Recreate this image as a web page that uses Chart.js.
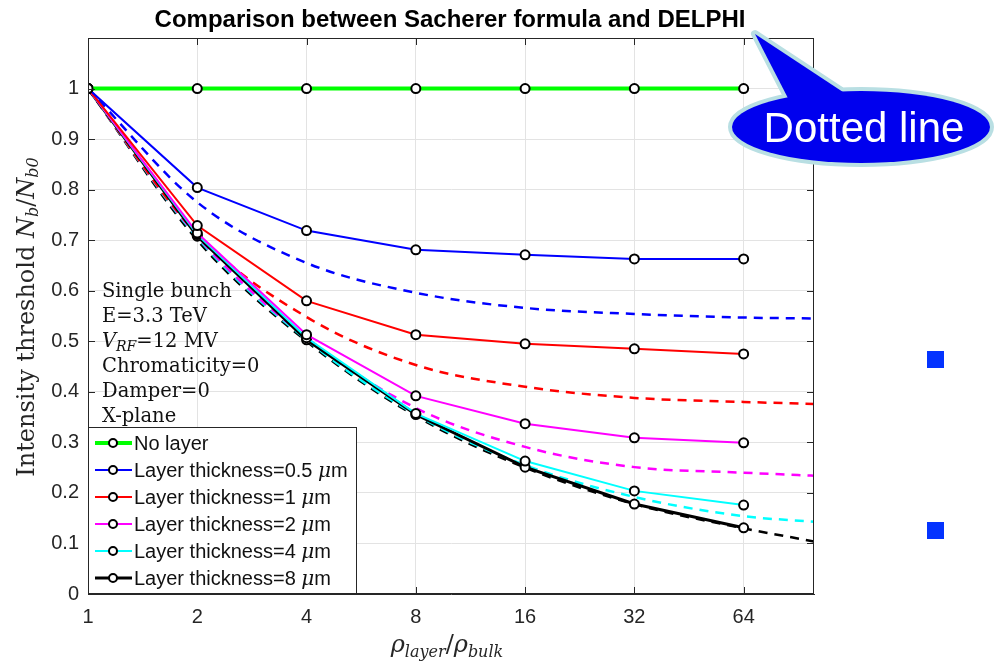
<!DOCTYPE html>
<html>
<head>
<meta charset="utf-8">
<script src="https://cdn.jsdelivr.net/npm/chart.js@4.4.0/dist/chart.umd.min.js"></script>
<style>
  html, body { margin: 0; background: #fff; }
</style>
</head>
<body>
<canvas id="c" width="994" height="664"></canvas>
<script>
// rho_layer / rho_bulk where DELPHI was run (markers)
const ratios = [1, 2, 4, 8, 16, 32, 64];
const ratiosSacherer = [1, 2, 4, 8, 16, 32, 64, 100];

const xTicks = [1, 2, 4, 8, 16, 32, 64];
const yTicks = [0, 0.1, 0.2, 0.3, 0.4, 0.5, 0.6, 0.7, 0.8, 0.9, 1];

const seriesLabels = ['No layer', 'Layer thickness=0.5 μm', 'Layer thickness=1 μm',
  'Layer thickness=2 μm', 'Layer thickness=4 μm', 'Layer thickness=8 μm'];
const seriesColors = ['#00ff00', '#0000ff', '#ff0000', '#ff00ff', '#00ffff', '#000000'];

// DELPHI, solid lines with circles
const delphiNoLayer = [1, 1, 1, 1, 1, 1, 1];
const delphi05 = [1, 0.804, 0.719, 0.681, 0.671, 0.663, 0.663];
const delphi1 = [1, 0.729, 0.580, 0.513, 0.495, 0.485, 0.475];
const delphi2 = [1, 0.714, 0.513, 0.392, 0.337, 0.309, 0.299];
const delphi4 = [1, 0.711, 0.507, 0.357, 0.263, 0.204, 0.176];
const delphi8 = [1, 0.708, 0.503, 0.355, 0.251, 0.178, 0.131];

// Sacherer formula, dashed lines
const sach05 = [1, 0.775, 0.655, 0.596, 0.566, 0.554, 0.547, 0.545];
const sach1 = [1, 0.712, 0.548, 0.453, 0.410, 0.388, 0.380, 0.376];
const sach2 = [1, 0.708, 0.507, 0.368, 0.291, 0.251, 0.240, 0.234];
const sach4 = [1, 0.705, 0.503, 0.355, 0.255, 0.192, 0.154, 0.143];
const sach8 = [1, 0.700, 0.500, 0.352, 0.250, 0.178, 0.130, 0.104];

const delphiSets = [delphiNoLayer, delphi05, delphi1, delphi2, delphi4, delphi8];
const sachSets = [null, sach05, sach1, sach2, sach4, sach8];

const pts = (xs, ys) => xs.map((x, i) => ({ x: x, y: ys[i] }));

const datasets = [];
delphiSets.forEach((ys, i) => {
  datasets.push({
    label: seriesLabels[i],
    data: pts(ratios, ys),
    borderColor: seriesColors[i],
    borderWidth: i === 0 ? 4 : (i === 5 ? 3 : 2),
    pointRadius: 4.5,
    pointBorderWidth: 2,
    pointBorderColor: '#000',
    pointBackgroundColor: '#fff',
    tension: 0,
    order: 0,
    solid: true
  });
});
sachSets.forEach((ys, i) => {
  if (!ys) return;
  datasets.push({
    label: seriesLabels[i] + ' (Sacherer)',
    data: pts(ratiosSacherer, ys),
    borderColor: seriesColors[i],
    borderWidth: 2.5,
    borderDash: [9, 7],
    pointRadius: 0,
    cubicInterpolationMode: 'monotone',
    order: 1
  });
});

// draws a run of text pieces with different fonts / offsets
function drawRich(ctx, parts, x, y, align) {
  let w = 0;
  parts.forEach(p => { ctx.font = p.f; w += ctx.measureText(p.t).width; });
  let cx = align === 'center' ? x - w / 2 : x;
  ctx.textAlign = 'left';
  parts.forEach(p => {
    ctx.font = p.f;
    ctx.fillText(p.t, cx, y + (p.dy || 0));
    cx += ctx.measureText(p.t).width;
  });
}

const SERIF = '"DejaVu Serif", serif';
const SANS = '"Liberation Sans", Arial, sans-serif';

const decor = {
  id: 'decor',
  afterDraw(chart) {
    const { ctx, chartArea: a, scales: { x, y } } = chart;
    ctx.save();

    // frame and inward ticks
    ctx.strokeStyle = '#262626';
    ctx.lineWidth = 1;
    ctx.strokeRect(a.left + 0.5, a.top + 0.5, a.right - a.left - 1, a.bottom - a.top - 1);
    ctx.beginPath();
    xTicks.forEach(v => {
      const px = Math.round(x.getPixelForValue(v)) + 0.5;
      ctx.moveTo(px, a.bottom); ctx.lineTo(px, a.bottom - 7);
      ctx.moveTo(px, a.top); ctx.lineTo(px, a.top + 7);
    });
    yTicks.forEach(v => {
      const py = Math.round(y.getPixelForValue(v)) + 0.5;
      ctx.moveTo(a.left, py); ctx.lineTo(a.left + 7, py);
      ctx.moveTo(a.right, py); ctx.lineTo(a.right - 7, py);
    });
    ctx.stroke();

    // title
    ctx.fillStyle = '#000';
    ctx.textBaseline = 'alphabetic';
    ctx.font = 'bold 24px ' + SANS;
    ctx.textAlign = 'center';
    ctx.fillText('Comparison between Sacherer formula and DELPHI', 450, 27);

    // axis titles
    ctx.fillStyle = '#262626';
    drawRich(ctx, [
      { t: 'ρ', f: 'italic 24px ' + SERIF },
      { t: 'layer', f: 'italic 16px ' + SERIF, dy: 5 },
      { t: '/', f: '24px ' + SERIF },
      { t: 'ρ', f: 'italic 24px ' + SERIF },
      { t: 'bulk', f: 'italic 16px ' + SERIF, dy: 5 }
    ], 447, 652, 'center');

    ctx.save();
    ctx.translate(34, 317);
    ctx.rotate(-Math.PI / 2);
    drawRich(ctx, [
      { t: 'Intensity threshold ', f: '24px ' + SERIF },
      { t: 'N', f: 'italic 24px ' + SERIF },
      { t: 'b', f: 'italic 16px ' + SERIF, dy: 4 },
      { t: '/', f: '24px ' + SERIF },
      { t: 'N', f: 'italic 24px ' + SERIF },
      { t: 'b0', f: 'italic 16px ' + SERIF, dy: 4 }
    ], 0, 0, 'center');
    ctx.restore();

    // parameter text
    ctx.fillStyle = '#111';
    const fTxt = '19.5px ' + SERIF;
    drawRich(ctx, [{ t: 'Single bunch', f: fTxt }], 102, 297);
    drawRich(ctx, [{ t: 'E=3.3 TeV', f: fTxt }], 102, 322);
    drawRich(ctx, [
      { t: 'V', f: 'italic 19.5px ' + SERIF },
      { t: 'RF', f: 'italic 14px ' + SERIF, dy: 4 },
      { t: '=12 MV', f: fTxt }
    ], 102, 347);
    drawRich(ctx, [{ t: 'Chromaticity=0', f: fTxt }], 102, 372);
    drawRich(ctx, [{ t: 'Damper=0', f: fTxt }], 102, 397);
    drawRich(ctx, [{ t: 'X-plane', f: fTxt }], 102, 422);

    // legend
    const lx = 88, ly = 427, lw = 268, lh = 166;
    ctx.fillStyle = '#fff';
    ctx.fillRect(lx, ly, lw, lh);
    ctx.strokeStyle = '#262626';
    ctx.lineWidth = 1;
    ctx.strokeRect(lx + 0.5, ly + 0.5, lw, lh);
    chart.data.datasets.filter(d => d.solid).forEach((d, i) => {
      const ry = 443 + i * 27;
      ctx.strokeStyle = d.borderColor;
      ctx.lineWidth = d.borderWidth;
      ctx.beginPath(); ctx.moveTo(95, ry); ctx.lineTo(132, ry); ctx.stroke();
      ctx.beginPath(); ctx.arc(113, ry, 4, 0, Math.PI * 2);
      ctx.fillStyle = '#fff'; ctx.fill();
      ctx.strokeStyle = '#000'; ctx.lineWidth = 2; ctx.stroke();
      ctx.fillStyle = '#111';
      const lab = d.label;
      const parts = lab.endsWith(' μm')
        ? [{ t: lab.slice(0, -2), f: '20px ' + SANS }, { t: 'μ', f: 'italic 20px ' + SERIF }, { t: 'm', f: '20px ' + SANS }]
        : [{ t: lab, f: '20px ' + SANS }];
      drawRich(ctx, parts, 134, ry + 7);
    });

    // callout bubble
    const ex = 861, ey = 127;
    ctx.beginPath();
    ctx.moveTo(791, 104); ctx.lineTo(755, 34); ctx.lineTo(846, 94); ctx.closePath();
    ctx.ellipse(ex, ey, 129, 36, 0, 0, Math.PI * 2);
    ctx.strokeStyle = '#b9dfe3';
    ctx.lineWidth = 8;
    ctx.lineJoin = 'round';
    ctx.stroke();
    ctx.beginPath();
    ctx.moveTo(791, 104); ctx.lineTo(755, 34); ctx.lineTo(846, 94); ctx.closePath();
    ctx.fillStyle = '#0000ee';
    ctx.fill();
    ctx.beginPath();
    ctx.ellipse(ex, ey, 129, 36, 0, 0, Math.PI * 2);
    ctx.fill();
    ctx.fillStyle = '#fff';
    ctx.font = '42px ' + SANS;
    ctx.textAlign = 'center';
    ctx.fillText('Dotted line', 864, 142);

    // slide bullets
    ctx.fillStyle = '#0433ff';
    ctx.fillRect(927, 351, 17, 17);
    ctx.fillRect(927, 522, 17, 17);

    ctx.restore();
  }
};

new Chart(document.getElementById('c'), {
  type: 'line',
  data: { datasets: datasets },
  options: {
    responsive: false,
    animation: false,
    devicePixelRatio: 1,
    layout: { padding: { left: 0, top: 38, right: 180, bottom: 0 } },
    plugins: { legend: { display: false }, tooltip: { enabled: false }, title: { display: false } },
    scales: {
      x: {
        type: 'logarithmic',
        min: 1,
        max: 100,
        afterBuildTicks: s => { s.ticks = xTicks.map(v => ({ value: v })); },
        afterFit: s => { s.height = 70; },
        grid: { color: '#e3e3e3', drawTicks: false },
        border: { color: '#262626' },
        ticks: {
          padding: 11,
          color: '#262626',
          font: { family: 'Liberation Sans', size: 20 },
          maxRotation: 0,
          autoSkip: false,
          callback: v => String(v)
        }
      },
      y: {
        min: 0,
        max: 1.1,
        afterBuildTicks: s => { s.ticks = yTicks.map(v => ({ value: v })); },
        afterFit: s => { s.width = 88; },
        grid: { color: '#e3e3e3', drawTicks: false },
        border: { color: '#262626' },
        ticks: {
          padding: 9,
          color: '#262626',
          font: { family: 'Liberation Sans', size: 20 },
          callback: v => String(+v.toFixed(1))
        }
      }
    }
  },
  plugins: [decor]
});
</script>
</body>
</html>
